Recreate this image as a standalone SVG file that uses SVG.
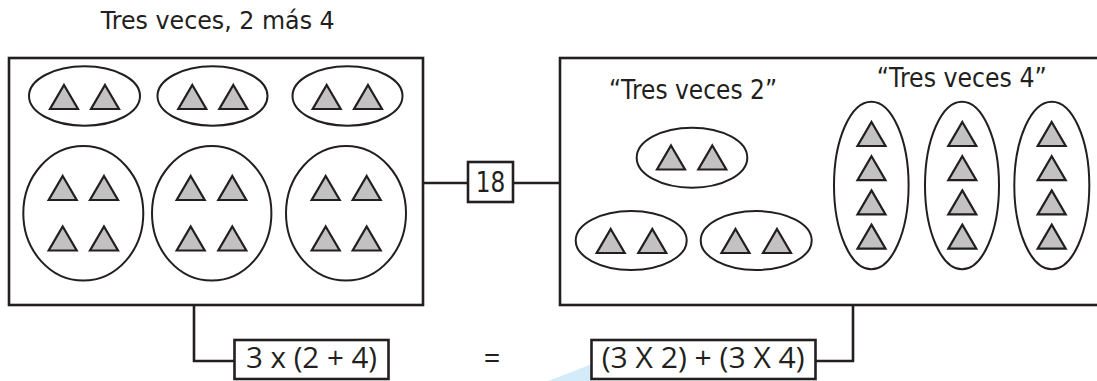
<svg xmlns="http://www.w3.org/2000/svg" xmlns:xlink="http://www.w3.org/1999/xlink" width="1097" height="381" viewBox="0 0 1097 381">
<style>
.box{fill:#ffffff;stroke:#231f20;stroke-width:2.6}
.ell{fill:none;stroke:#231f20;stroke-width:2}
.tri{fill:#c2c2c2;stroke:#231f20;stroke-width:2.2;stroke-linejoin:miter}
.con{fill:none;stroke:#231f20;stroke-width:2.6}
.t1{font-family:"DejaVu Sans","Liberation Sans",sans-serif;fill:#231f20}
.t2{font-family:"Open Sans","Noto Sans","Liberation Sans",sans-serif;fill:#231f20}
</style>
<defs>
<path id="tri" class="tri" d="M0,-12 L14,12 L-14,12 Z"/>
</defs>
<rect width="1097" height="381" fill="#ffffff"/>
<polygon points="548,381 592,364 592,381" fill="#d4ecfa"/>

<g id="title">
<text class="t1" x="100.7" y="29" font-size="25" textLength="234" lengthAdjust="spacingAndGlyphs">Tres veces, 2 más 4</text>
</g>

<g id="connectors">
<path class="con" d="M423,183 H468"/>
<path class="con" d="M513,183 H560"/>
<path class="con" d="M194,305 V361 H234"/>
<path class="con" d="M853,305 V361 H816"/>
</g>

<g id="left-box">
<rect class="box" x="9" y="58" width="414" height="247"/>
<ellipse class="ell" cx="84.5" cy="96" rx="55.5" ry="29.7"/>
<ellipse class="ell" cx="212.5" cy="96" rx="55" ry="29.7"/>
<ellipse class="ell" cx="347.5" cy="96" rx="55" ry="29.7"/>
<ellipse class="ell" cx="83.3" cy="213.3" rx="60" ry="67.3"/>
<ellipse class="ell" cx="211.7" cy="213.3" rx="59.7" ry="67.3"/>
<ellipse class="ell" cx="346" cy="213.3" rx="60" ry="67.3"/>
<use xlink:href="#tri" x="64" y="97"/>
<use xlink:href="#tri" x="105" y="97"/>
<use xlink:href="#tri" x="192.3" y="97"/>
<use xlink:href="#tri" x="233.3" y="97"/>
<use xlink:href="#tri" x="326.7" y="97"/>
<use xlink:href="#tri" x="368" y="97"/>
<use xlink:href="#tri" x="62.7" y="188"/>
<use xlink:href="#tri" x="104" y="188"/>
<use xlink:href="#tri" x="62.7" y="238.5"/>
<use xlink:href="#tri" x="104" y="238.5"/>
<use xlink:href="#tri" x="190.7" y="188"/>
<use xlink:href="#tri" x="232.3" y="188"/>
<use xlink:href="#tri" x="190.7" y="238.5"/>
<use xlink:href="#tri" x="232.3" y="238.5"/>
<use xlink:href="#tri" x="325.7" y="188"/>
<use xlink:href="#tri" x="366.7" y="188"/>
<use xlink:href="#tri" x="325.7" y="238.5"/>
<use xlink:href="#tri" x="366.7" y="238.5"/>
</g>

<g id="result-18">
<rect class="box" x="468" y="162" width="45" height="40"/>
<text class="t1" x="475.7" y="191.7" font-size="28" textLength="29.5" lengthAdjust="spacingAndGlyphs">18</text>
</g>

<g id="right-box">
<rect class="box" x="560" y="58" width="545" height="247"/>
<text class="t1" x="609" y="99.3" font-size="26" textLength="168" lengthAdjust="spacingAndGlyphs">“Tres veces 2”</text>
<text class="t1" x="876.7" y="86.7" font-size="26" textLength="170" lengthAdjust="spacingAndGlyphs">“Tres veces 4”</text>
<ellipse class="ell" cx="692" cy="157.7" rx="55.3" ry="30"/>
<ellipse class="ell" cx="631.2" cy="240.5" rx="55.5" ry="29.5"/>
<ellipse class="ell" cx="756.2" cy="240.5" rx="55.5" ry="29.5"/>
<use xlink:href="#tri" x="671" y="157.5"/>
<use xlink:href="#tri" x="712.3" y="157.5"/>
<use xlink:href="#tri" x="610.7" y="241"/>
<use xlink:href="#tri" x="652.3" y="241"/>
<use xlink:href="#tri" x="735.5" y="241"/>
<use xlink:href="#tri" x="777" y="241"/>
<ellipse class="ell" cx="871.3" cy="185.5" rx="37.3" ry="83.8"/>
<ellipse class="ell" cx="962" cy="185.5" rx="37" ry="83.8"/>
<ellipse class="ell" cx="1051.8" cy="185.5" rx="37.5" ry="83.8"/>
<use xlink:href="#tri" x="871.5" y="134"/>
<use xlink:href="#tri" x="871.5" y="168.2"/>
<use xlink:href="#tri" x="871.5" y="202.4"/>
<use xlink:href="#tri" x="871.5" y="236.6"/>
<use xlink:href="#tri" x="962.3" y="134"/>
<use xlink:href="#tri" x="962.3" y="168.2"/>
<use xlink:href="#tri" x="962.3" y="202.4"/>
<use xlink:href="#tri" x="962.3" y="236.6"/>
<use xlink:href="#tri" x="1051.7" y="134"/>
<use xlink:href="#tri" x="1051.7" y="168.2"/>
<use xlink:href="#tri" x="1051.7" y="202.4"/>
<use xlink:href="#tri" x="1051.7" y="236.6"/>
</g>

<g id="formula-left">
<rect class="box" x="234.5" y="340" width="154" height="39"/>
<text class="t2" x="246" y="368.3" font-size="29" textLength="131" lengthAdjust="spacingAndGlyphs">3 x (2 + 4)</text>
</g>

<g id="equals">
<text class="t2" x="492" y="368.3" font-size="29" text-anchor="middle">=</text>
</g>

<g id="formula-right">
<rect class="box" x="591.5" y="340" width="224" height="39"/>
<text class="t2" x="601.7" y="368.3" font-size="29" textLength="203" lengthAdjust="spacingAndGlyphs">(3 X 2) + (3 X 4)</text>
</g>
</svg>
